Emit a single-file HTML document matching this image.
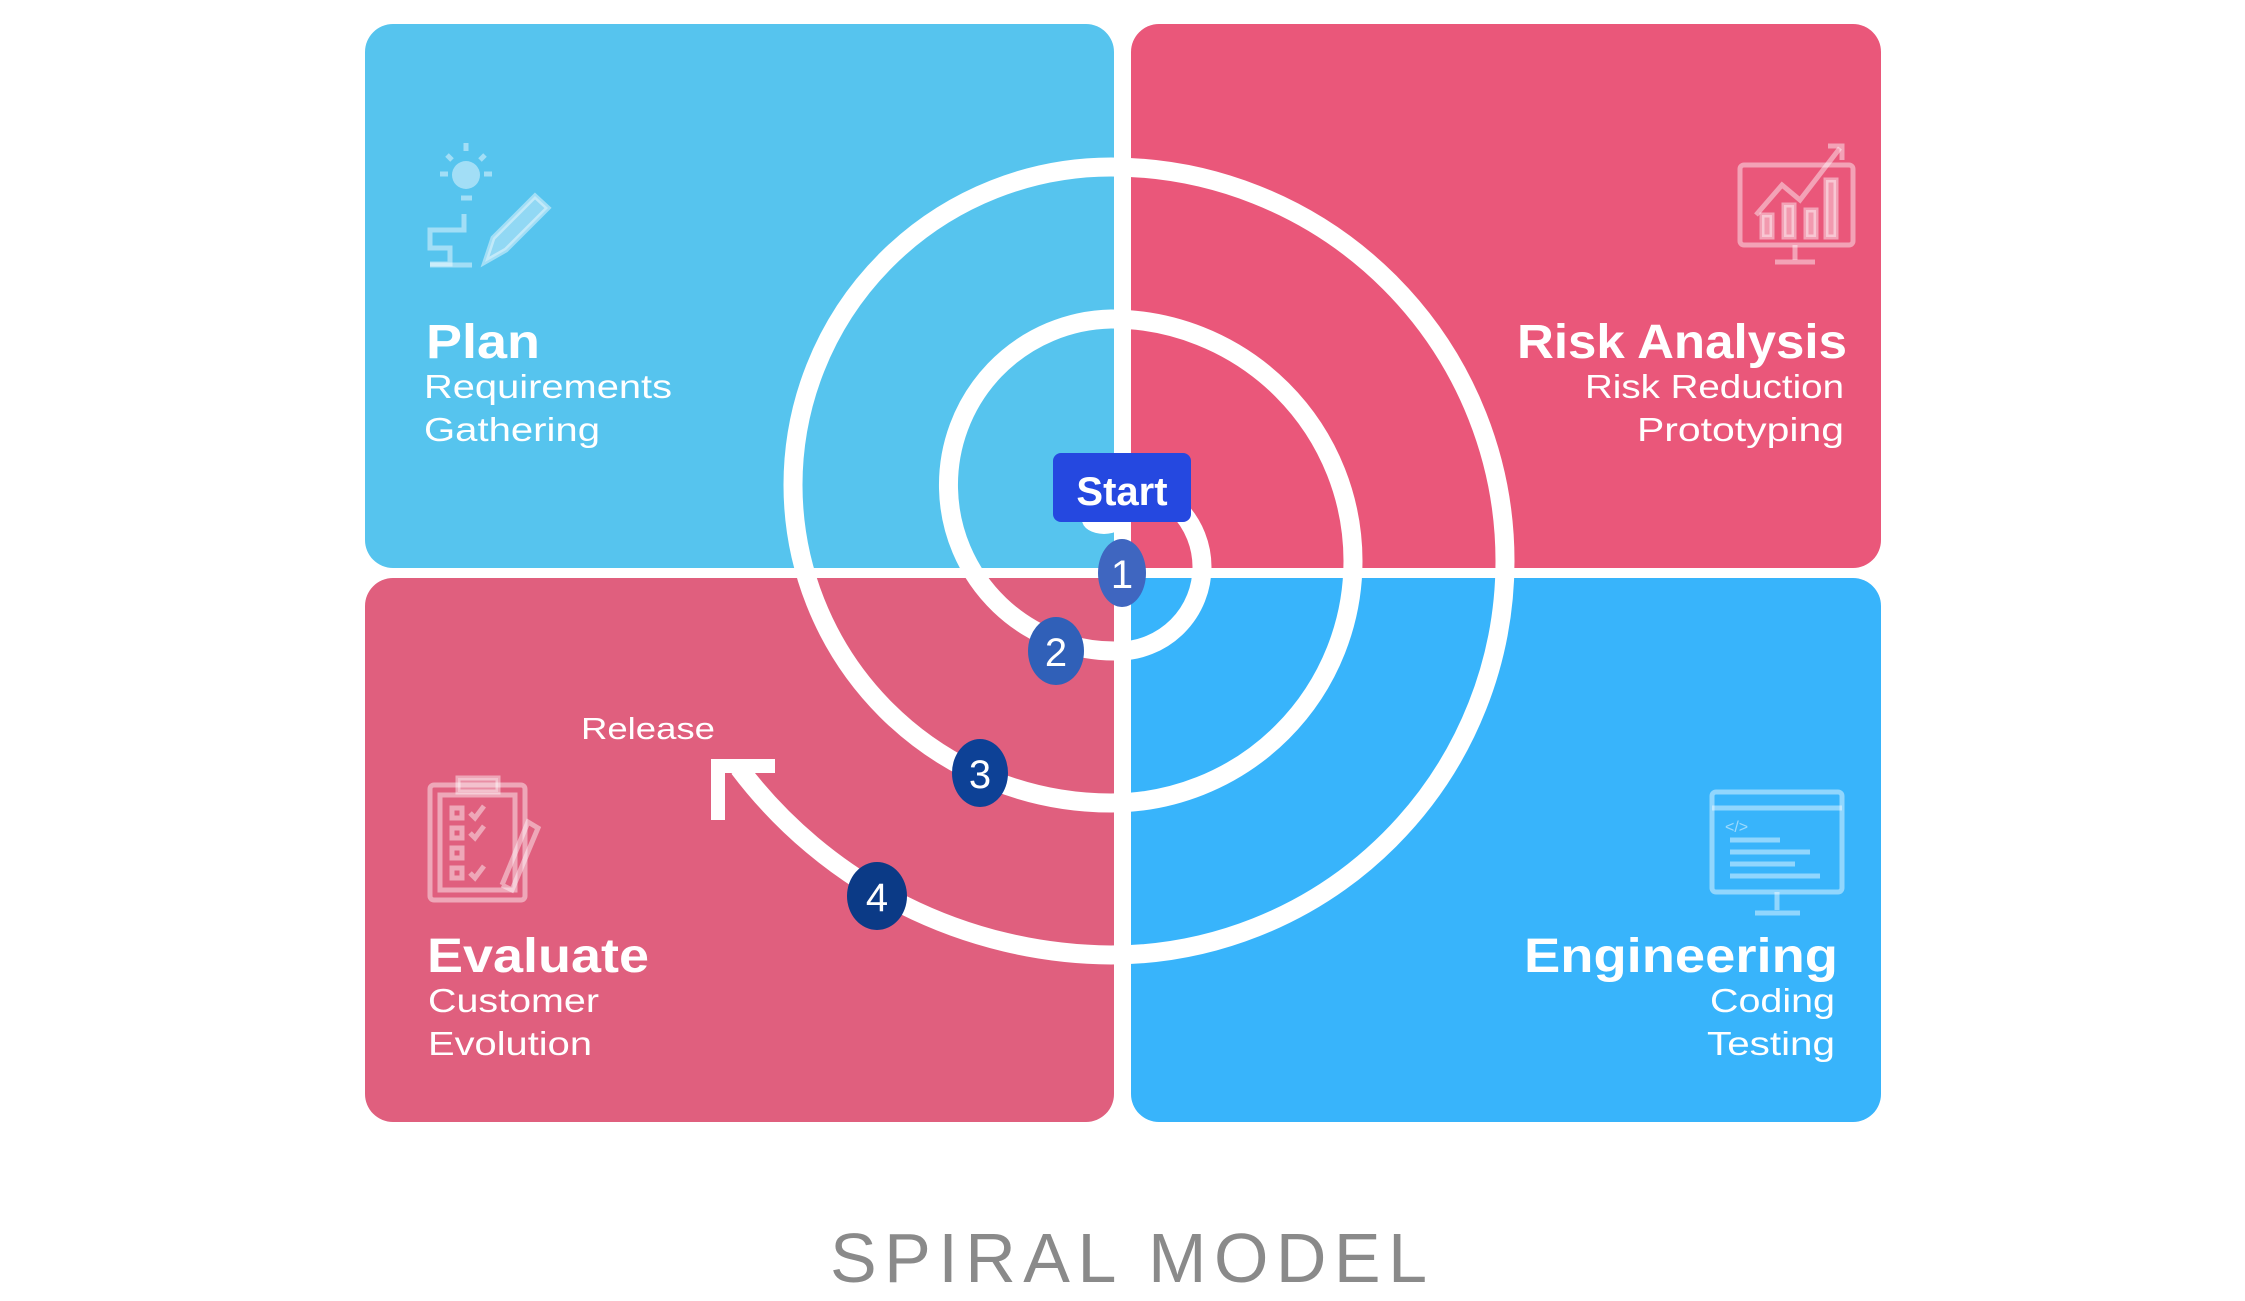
<!DOCTYPE html>
<html><head><meta charset="utf-8"><style>
html,body{margin:0;padding:0;background:#fff;}
svg{display:block;}
text{font-family:"Liberation Sans",sans-serif;}
</style></head><body>
<svg width="2245" height="1301" viewBox="0 0 2245 1301" xmlns="http://www.w3.org/2000/svg">
<rect width="2245" height="1301" fill="#fff"/>
<rect x="365" y="24" width="749" height="544" rx="28" fill="#56c4ee"/>
<rect x="1131" y="24" width="750" height="544" rx="28" fill="#ea577a"/>
<rect x="365" y="578" width="749" height="544" rx="28" fill="#e05f7e"/>
<rect x="1131" y="578" width="750" height="544" rx="28" fill="#38b4fb"/>
<rect x="1000" y="450" width="114" height="118" fill="#56c4ee"/>
<rect x="1131" y="450" width="120" height="118" fill="#ea577a"/>
<rect x="1000" y="578" width="114" height="120" fill="#e05f7e"/>
<rect x="1131" y="578" width="120" height="120" fill="#38b4fb"/>

<g stroke="#ffffff" stroke-opacity="0.45" fill="none" stroke-width="5">
 <circle cx="466" cy="175" r="14" fill="#fff" fill-opacity="0.45" stroke="none"/>
 <line x1="461" y1="198" x2="472" y2="198"/>
 <line x1="466" y1="143" x2="466" y2="151"/><line x1="440" y1="174" x2="448" y2="174"/><line x1="484" y1="174" x2="492" y2="174"/>
 <line x1="447" y1="155" x2="452" y2="160"/><line x1="485" y1="155" x2="480" y2="160"/>
 <polyline points="464,214 464,230 430,230 430,248 450,248 450,264 430,264"/>
 <line x1="430" y1="265" x2="472" y2="265"/>
 <polygon points="485,262 493,238 535,196 548,208 506,250" fill="#fff" fill-opacity="0.35"/>
 <rect x="1740" y="165" width="113" height="80" rx="4"/>
 <line x1="1795" y1="245" x2="1795" y2="260"/><line x1="1775" y1="262" x2="1815" y2="262"/>
 <polyline points="1756,215 1782,185 1800,200 1840,148"/>
 <polyline points="1828,146 1842,146 1842,160"/>
 <rect x="1762" y="215" width="10" height="22" fill="#fff" fill-opacity="0.4"/>
 <rect x="1784" y="205" width="10" height="32" fill="#fff" fill-opacity="0.4"/>
 <rect x="1806" y="210" width="10" height="27" fill="#fff" fill-opacity="0.4"/>
 <rect x="1826" y="180" width="10" height="57" fill="#fff" fill-opacity="0.4"/>
 <rect x="430" y="785" width="95" height="115" rx="4"/>
 <rect x="440" y="795" width="75" height="95"/>
 <rect x="458" y="778" width="40" height="14" fill="#fff" fill-opacity="0.3"/>
 <rect x="452" y="808" width="10" height="10"/><rect x="452" y="828" width="10" height="10"/><rect x="452" y="848" width="10" height="10"/><rect x="452" y="868" width="10" height="10"/>
 <polyline points="470,813 475,818 484,806"/><polyline points="470,833 475,838 484,826"/>
 <polyline points="470,873 475,878 484,866"/>
 <polyline points="502,885 528,822 538,828 512,890 502,885"/>
 <rect x="1712" y="792" width="130" height="100" rx="4"/>
 <line x1="1712" y1="808" x2="1842" y2="808"/>
 <line x1="1777" y1="892" x2="1777" y2="910"/><line x1="1755" y1="913" x2="1800" y2="913"/>
 <line x1="1730" y1="840" x2="1780" y2="840"/><line x1="1730" y1="852" x2="1810" y2="852"/><line x1="1730" y1="864" x2="1795" y2="864"/><line x1="1730" y1="876" x2="1820" y2="876"/>
 <text x="1725" y="832" font-size="16" fill="#fff" fill-opacity="0.5" stroke="none">&lt;/&gt;</text>
</g>

<g fill="none" stroke="#fff" stroke-width="19">
 <path d="M1118,483 A84,84 0 0 1 1118,651 A166,166 0 0 1 1111,319 A242,242 0 0 1 1111,803 A318,318 0 0 1 1111,167 A394,394 0 0 1 1111,955 A470,470 0 0 1 739,768"/>
</g>
<polyline points="775,766 718,766 718,820" fill="none" stroke="#fff" stroke-width="14"/>

<ellipse cx="1104" cy="520" rx="22" ry="14" fill="#fff"/>
<rect x="1053" y="453" width="138" height="69" rx="8" fill="#2548e0"/>
<text x="1122" y="505" font-size="40" font-weight="bold" fill="#fff" text-anchor="middle">Start</text>

<ellipse cx="1122" cy="573" rx="24" ry="34" fill="#3f66c0"/>
<text x="1122" y="588" font-size="40" fill="#fff" text-anchor="middle">1</text>
<ellipse cx="1056" cy="651" rx="28" ry="34" fill="#3060b8"/>
<text x="1056" y="666" font-size="40" fill="#fff" text-anchor="middle">2</text>
<ellipse cx="980" cy="773" rx="28" ry="34" fill="#0d4196"/>
<text x="980" y="788" font-size="40" fill="#fff" text-anchor="middle">3</text>
<ellipse cx="877" cy="896" rx="30" ry="34" fill="#0b3a86"/>
<text x="877" y="911" font-size="40" fill="#fff" text-anchor="middle">4</text>

<g fill="#fff">
 <text x="426" y="358" font-size="48" font-weight="bold" textLength="114" lengthAdjust="spacingAndGlyphs">Plan</text>
 <text x="424" y="398" font-size="33" textLength="248" lengthAdjust="spacingAndGlyphs">Requirements</text>
 <text x="424" y="441" font-size="33" textLength="176" lengthAdjust="spacingAndGlyphs">Gathering</text>
 <text x="1517" y="358" font-size="48" font-weight="bold" textLength="330" lengthAdjust="spacingAndGlyphs">Risk Analysis</text>
 <text x="1585" y="398" font-size="33" textLength="259" lengthAdjust="spacingAndGlyphs">Risk Reduction</text>
 <text x="1637" y="441" font-size="33" textLength="207" lengthAdjust="spacingAndGlyphs">Prototyping</text>
 <text x="427" y="972" font-size="48" font-weight="bold" textLength="222" lengthAdjust="spacingAndGlyphs">Evaluate</text>
 <text x="428" y="1012" font-size="33" textLength="171" lengthAdjust="spacingAndGlyphs">Customer</text>
 <text x="428" y="1055" font-size="33" textLength="164" lengthAdjust="spacingAndGlyphs">Evolution</text>
 <text x="1524" y="972" font-size="48" font-weight="bold" textLength="314" lengthAdjust="spacingAndGlyphs">Engineering</text>
 <text x="1710" y="1012" font-size="33" textLength="125" lengthAdjust="spacingAndGlyphs">Coding</text>
 <text x="1707" y="1055" font-size="33" textLength="128" lengthAdjust="spacingAndGlyphs">Testing</text>
 <text x="581" y="739" font-size="31" textLength="134" lengthAdjust="spacingAndGlyphs">Release</text>
</g>

<text x="830" y="1282" font-size="70" fill="#8a8a8a" textLength="597" lengthAdjust="spacing">SPIRAL MODEL</text>
</svg>
</body></html>
